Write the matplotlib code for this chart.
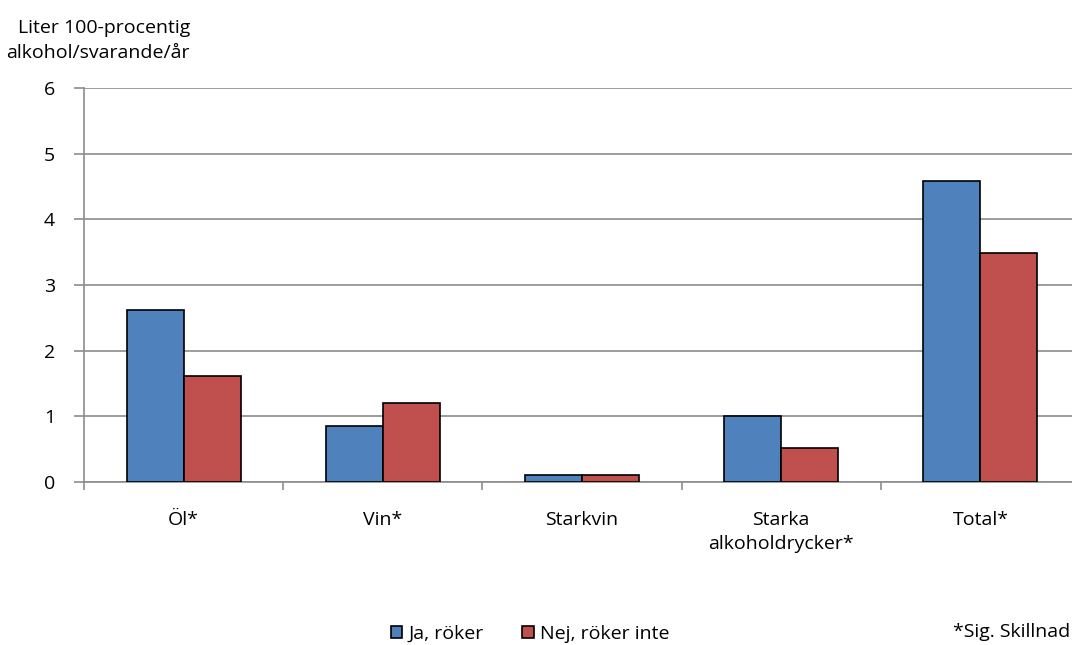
import numpy as np
import matplotlib.pyplot as plt

plt.rcParams['font.family'] = ['Open Sans', 'DejaVu Sans']

categories = ['Öl*', 'Vin*', 'Starkvin', 'Starka\nalkoholdrycker*', 'Total*']
ja_roker = [2.62, 0.86, 0.10, 1.00, 4.59]
nej_roker = [1.62, 1.21, 0.10, 0.52, 3.48]
series_names = ['Ja, röker', 'Nej, röker inte']

fs = 14

fig = plt.figure(figsize=(10.72, 6.45), dpi=100)
ax = fig.add_axes([84 / 1072, 1 - 482 / 645, 996 / 1072, 394 / 645])

x = np.arange(len(categories))
w = 0.286
ax.bar(x - w / 2, ja_roker, w, color='#4F81BD', edgecolor='black', linewidth=1.2,
       label=series_names[0], zorder=3)
ax.bar(x + w / 2, nej_roker, w, color='#C0504D', edgecolor='black', linewidth=1.2,
       label=series_names[1], zorder=3)

ax.set_xlim(-0.5, len(categories) - 0.5)
ax.set_ylim(0, 6)
ax.set_yticks(range(7))
ax.yaxis.grid(True, color='#8c8c8c', linewidth=1.2, zorder=0)

# category boundary ticks on x axis
ax.set_xticks(np.arange(-0.5, len(categories) + 0.5, 1))
ax.set_xticklabels([])
ax.set_xticks(x, minor=True)
ax.set_xticklabels(categories, minor=True, fontsize=fs, linespacing=1.45)
ax.tick_params(axis='x', which='minor', length=0, pad=21)
ax.tick_params(axis='x', which='major', length=6, color='#8c8c8c', width=1.2)
ax.tick_params(axis='y', length=7, color='#8c8c8c', width=1.2, labelsize=fs, pad=14)

for s in ['top', 'right']:
    ax.spines[s].set_visible(False)
for s in ['left', 'bottom']:
    ax.spines[s].set_color('#8c8c8c')
    ax.spines[s].set_linewidth(1.2)

fig.text(18 / 1072, 1 - 28 / 645, 'Liter 100-procentig', fontsize=fs, va='center', ha='left')
fig.text(6 / 1072, 1 - 53 / 645, 'alkohol/svarande/år', fontsize=fs, va='center', ha='left')

fig.legend(loc='center', bbox_to_anchor=(530 / 1072, 1 - 634 / 645), ncol=2, frameon=False,
           fontsize=fs, handlelength=0.6, handleheight=0.6, handletextpad=0.3,
           columnspacing=2.0)
fig.text(1070 / 1072, 1 - 632 / 645, '*Sig. Skillnad', fontsize=fs, va='center', ha='right')

fig.savefig('out.png', dpi=100)
